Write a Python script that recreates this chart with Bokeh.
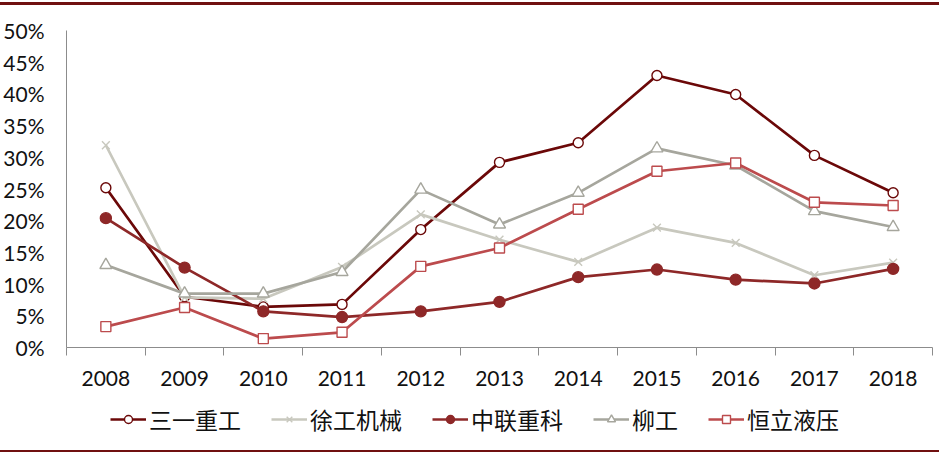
from bokeh.plotting import figure
from bokeh.layouts import column
from bokeh.models import (ColumnDataSource, FixedTicker, NumeralTickFormatter,
                          Legend, LegendItem, Range1d, Div)
from bokeh.embed import file_html
from bokeh.resources import INLINE

years = [2008, 2009, 2010, 2011, 2012, 2013, 2014, 2015, 2016, 2017, 2018]
sany = [25.2, 8.0, 6.4, 6.8, 18.6, 29.2, 32.3, 42.9, 39.9, 30.3, 24.4]
xcmg = [31.9, 7.9, 7.7, 12.7, 21.0, 17.0, 13.5, 18.9, 16.5, 11.4, 13.4]
zoomlion = [20.4, 12.6, 5.7, 4.8, 5.7, 7.2, 11.1, 12.3, 10.7, 10.1, 12.4]
liugong = [13.0, 8.5, 8.5, 11.9, 24.9, 19.4, 24.4, 31.4, 28.7, 21.5, 19.0]
hengli = [3.3, 6.3, 1.4, 2.4, 12.8, 15.7, 21.8, 27.8, 29.1, 22.9, 22.4]
names = ["三一重工", "徐工机械", "中联重科", "柳工", "恒立液压"]
y_ticks = [0, 0.05, 0.10, 0.15, 0.20, 0.25, 0.30, 0.35, 0.40, 0.45, 0.50]

series = [sany, xcmg, zoomlion, liugong, hengli]
colors = ["#6B0808", "#C8C8BE", "#8E2828", "#A6A69D", "#BC4B4D"]
markers = ["circle", "x", "circle", "triangle", "square"]
fills = ["white", "#C8C8BE", "#8E2828", "white", "white"]
sizes = [10, 11, 11, 12, 10]
rule_color = "#701010"
W = 939

top_rule = Div(width=W, height=3, margin=(2, 0, 0, 0),
               styles={"background-color": rule_color})
bottom_rule = Div(width=W, height=2, margin=0,
                  styles={"background-color": rule_color})

p = figure(width=W, height=391, output_backend="svg", toolbar_location=None,
           x_range=Range1d(2007.5, 2018.5), y_range=Range1d(0, 0.5),
           min_border_left=66, min_border_right=7, min_border_top=25,
           min_border_bottom=49)
p.outline_line_color = None
p.xgrid.grid_line_color = None
p.ygrid.grid_line_color = None

tick_font = "Lato"
ax = p.xaxis[0]
ax.ticker = FixedTicker(ticks=years, minor_ticks=[y - 0.5 for y in years] + [years[-1] + 0.5])
ax.major_tick_out = 0
ax.major_tick_in = 0
ax.minor_tick_out = 8
ax.minor_tick_in = 0
ax.minor_tick_line_color = "#8C8C8C"
ax.axis_line_color = "#8C8C8C"
ax.major_label_text_font = tick_font
ax.major_label_text_font_size = "21px"
ax.major_label_text_color = "#111111"
ax.major_label_standoff = 15

ay = p.yaxis[0]
ay.ticker = FixedTicker(ticks=y_ticks)
ay.formatter = NumeralTickFormatter(format="0%")
ay.major_tick_out = 0
ay.major_tick_in = 0
ay.minor_tick_line_color = None
ay.axis_line_color = "#8C8C8C"
ay.major_label_text_font = tick_font
ay.major_label_text_font_size = "21px"
ay.major_label_text_color = "#111111"
ay.major_label_standoff = 22

# legend figure: same series, drawn outside its visible ranges so only the legend shows
lf = figure(width=W, height=54, output_backend="svg", toolbar_location=None,
            x_range=Range1d(0, 1), y_range=Range1d(0, 1),
            x_axis_location=None, y_axis_location=None,
            min_border_left=0, min_border_right=0, min_border_top=0,
            min_border_bottom=0)
lf.outline_line_color = None
lf.xgrid.grid_line_color = None
lf.ygrid.grid_line_color = None

items = []
for name, vals, c, m, f, s in zip(names, series, colors, markers, fills, sizes):
    src = ColumnDataSource(dict(x=years, y=[v / 100 for v in vals]))
    p.line("x", "y", source=src, line_color=c, line_width=2.7)
    p.scatter("x", "y", source=src, marker=m, size=s, line_color=c,
              fill_color=f, line_width=1.4)
    lr = lf.line("x", "y", source=src, line_color=c, line_width=2.7)
    sr = lf.scatter("x", "y", source=src, marker=m, size=s, line_color=c,
                    fill_color=f, line_width=1.4)
    items.append(LegendItem(label=name, renderers=[lr, sr]))

legend = Legend(items=items, orientation="horizontal", location=(44, 14),
                spacing=30, glyph_width=36, glyph_height=20, label_standoff=3,
                padding=0, margin=0, border_line_color=None,
                background_fill_alpha=0,
                label_text_font="Noto Sans CJK SC", label_text_font_size="23px",
                label_text_color="#111111")
lf.add_layout(legend, "center")

layout = column(top_rule, p, lf, bottom_rule, spacing=0)
open("out.html", "w").write(file_html(layout, INLINE))
